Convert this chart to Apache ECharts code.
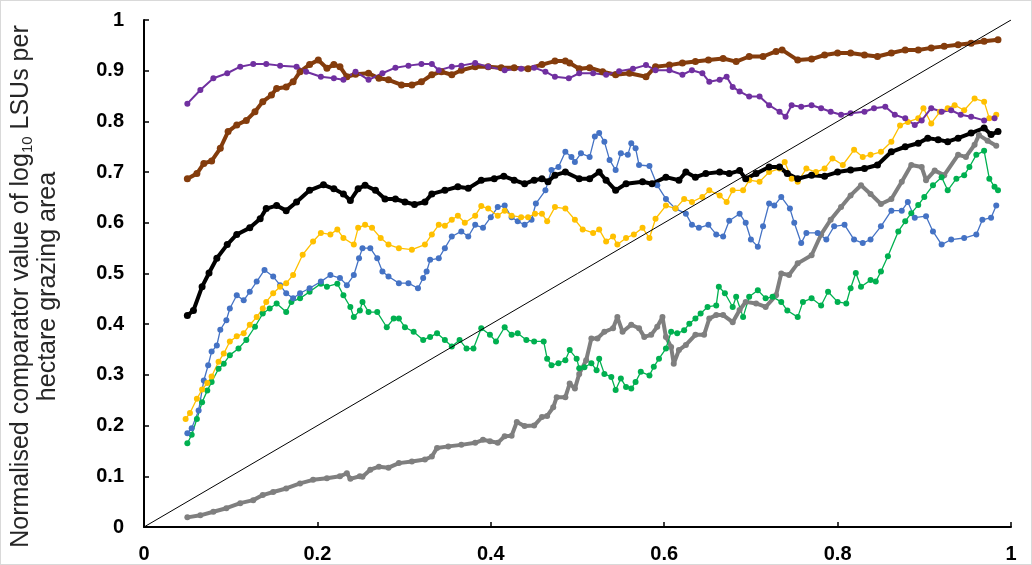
<!DOCTYPE html>
<html>
<head>
<meta charset="utf-8">
<script src="https://cdn.jsdelivr.net/npm/echarts@6/dist/echarts.min.js"></script>
<style>
  html, body { margin: 0; padding: 0; background: #fff; }
  #chart { width: 1030px; height: 563px; border: 1px solid #d9d9d9; }
</style>
</head>
<body>
<div id="chart"></div>
<script>
// 各曲线数据 [x, y]
const purple = [[0.050,0.835],[0.065,0.862],[0.080,0.885],[0.096,0.895],[0.111,0.908],[0.126,0.913],[0.141,0.913],[0.157,0.910],[0.176,0.908],[0.187,0.898],[0.204,0.888],[0.219,0.885],[0.230,0.882],[0.244,0.898],[0.259,0.882],[0.275,0.895],[0.290,0.906],[0.305,0.910],[0.320,0.913],[0.332,0.913],[0.340,0.901],[0.355,0.908],[0.366,0.910],[0.382,0.915],[0.397,0.908],[0.416,0.901],[0.435,0.904],[0.450,0.906],[0.463,0.898],[0.474,0.888],[0.490,0.885],[0.502,0.895],[0.518,0.895],[0.533,0.892],[0.548,0.899],[0.564,0.904],[0.579,0.911],[0.590,0.901],[0.606,0.901],[0.621,0.892],[0.632,0.901],[0.644,0.895],[0.652,0.878],[0.664,0.882],[0.672,0.888],[0.679,0.868],[0.687,0.859],[0.698,0.849],[0.710,0.849],[0.721,0.832],[0.733,0.819],[0.740,0.809],[0.747,0.832],[0.758,0.829],[0.770,0.832],[0.781,0.826],[0.792,0.819],[0.804,0.813],[0.815,0.816],[0.831,0.819],[0.842,0.826],[0.855,0.829],[0.866,0.813],[0.878,0.806],[0.889,0.793],[0.897,0.802],[0.908,0.826],[0.920,0.819],[0.931,0.822],[0.942,0.813],[0.954,0.809],[0.969,0.802],[0.981,0.806]];

const brown = [[0.050,0.687],[0.061,0.697],[0.069,0.717],[0.078,0.722],[0.088,0.747],[0.097,0.780],[0.107,0.793],[0.118,0.802],[0.128,0.819],[0.137,0.839],[0.147,0.852],[0.153,0.865],[0.164,0.868],[0.172,0.878],[0.180,0.898],[0.191,0.912],[0.201,0.921],[0.211,0.905],[0.219,0.912],[0.226,0.908],[0.234,0.888],[0.244,0.893],[0.259,0.895],[0.271,0.885],[0.282,0.882],[0.297,0.872],[0.309,0.872],[0.320,0.878],[0.332,0.892],[0.343,0.898],[0.355,0.892],[0.366,0.901],[0.382,0.908],[0.397,0.908],[0.412,0.906],[0.427,0.906],[0.443,0.904],[0.459,0.912],[0.474,0.919],[0.486,0.919],[0.491,0.915],[0.502,0.904],[0.514,0.906],[0.529,0.898],[0.544,0.892],[0.560,0.895],[0.579,0.888],[0.590,0.908],[0.606,0.911],[0.621,0.915],[0.636,0.918],[0.651,0.921],[0.668,0.924],[0.683,0.918],[0.698,0.928],[0.714,0.928],[0.729,0.938],[0.736,0.941],[0.754,0.921],[0.770,0.923],[0.785,0.931],[0.800,0.935],[0.815,0.935],[0.831,0.931],[0.846,0.928],[0.862,0.935],[0.878,0.941],[0.893,0.941],[0.908,0.945],[0.923,0.948],[0.939,0.951],[0.954,0.954],[0.969,0.958],[0.985,0.961]];

const black = [[0.050,0.417],[0.057,0.427],[0.067,0.474],[0.075,0.501],[0.084,0.530],[0.096,0.557],[0.107,0.577],[0.122,0.590],[0.134,0.608],[0.141,0.628],[0.153,0.634],[0.164,0.624],[0.176,0.641],[0.191,0.664],[0.207,0.675],[0.219,0.667],[0.230,0.657],[0.238,0.644],[0.247,0.667],[0.255,0.674],[0.267,0.664],[0.278,0.647],[0.290,0.647],[0.301,0.641],[0.312,0.636],[0.324,0.641],[0.332,0.657],[0.347,0.664],[0.362,0.671],[0.374,0.668],[0.389,0.684],[0.404,0.687],[0.415,0.692],[0.427,0.684],[0.439,0.677],[0.450,0.684],[0.459,0.687],[0.466,0.681],[0.474,0.694],[0.486,0.700],[0.502,0.687],[0.514,0.687],[0.525,0.700],[0.533,0.684],[0.544,0.664],[0.556,0.677],[0.575,0.681],[0.586,0.677],[0.602,0.690],[0.617,0.684],[0.625,0.700],[0.636,0.690],[0.648,0.697],[0.664,0.700],[0.675,0.697],[0.687,0.703],[0.694,0.687],[0.706,0.697],[0.721,0.710],[0.733,0.710],[0.742,0.697],[0.754,0.687],[0.770,0.694],[0.785,0.692],[0.800,0.700],[0.815,0.704],[0.831,0.707],[0.846,0.714],[0.862,0.740],[0.878,0.750],[0.893,0.757],[0.904,0.767],[0.916,0.764],[0.927,0.760],[0.939,0.767],[0.954,0.777],[0.969,0.787],[0.977,0.774],[0.985,0.780]];

const yellow = [[0.048,0.213],[0.053,0.225],[0.061,0.253],[0.067,0.271],[0.073,0.284],[0.078,0.297],[0.086,0.326],[0.092,0.342],[0.099,0.366],[0.107,0.376],[0.115,0.382],[0.122,0.399],[0.130,0.414],[0.137,0.431],[0.141,0.444],[0.149,0.461],[0.157,0.474],[0.164,0.481],[0.172,0.497],[0.183,0.537],[0.195,0.563],[0.204,0.580],[0.215,0.577],[0.223,0.587],[0.230,0.570],[0.242,0.557],[0.247,0.590],[0.255,0.596],[0.263,0.590],[0.273,0.570],[0.282,0.557],[0.294,0.550],[0.309,0.547],[0.324,0.557],[0.332,0.577],[0.340,0.596],[0.347,0.594],[0.355,0.606],[0.362,0.614],[0.370,0.600],[0.382,0.614],[0.389,0.633],[0.397,0.628],[0.408,0.614],[0.416,0.624],[0.424,0.614],[0.435,0.611],[0.443,0.611],[0.451,0.618],[0.459,0.618],[0.465,0.603],[0.474,0.631],[0.486,0.628],[0.497,0.606],[0.506,0.587],[0.518,0.580],[0.525,0.587],[0.533,0.563],[0.541,0.573],[0.546,0.557],[0.556,0.570],[0.565,0.577],[0.575,0.590],[0.583,0.570],[0.590,0.608],[0.602,0.634],[0.613,0.628],[0.623,0.647],[0.632,0.641],[0.644,0.651],[0.652,0.664],[0.664,0.654],[0.672,0.641],[0.679,0.664],[0.691,0.664],[0.698,0.684],[0.710,0.681],[0.721,0.700],[0.733,0.707],[0.739,0.720],[0.747,0.687],[0.754,0.681],[0.764,0.707],[0.775,0.700],[0.785,0.707],[0.794,0.727],[0.806,0.714],[0.819,0.744],[0.829,0.730],[0.838,0.734],[0.850,0.740],[0.862,0.760],[0.872,0.792],[0.881,0.799],[0.893,0.806],[0.899,0.826],[0.908,0.796],[0.918,0.819],[0.927,0.826],[0.935,0.832],[0.946,0.822],[0.958,0.845],[0.969,0.839],[0.975,0.806],[0.983,0.813]];

const blue = [[0.050,0.185],[0.055,0.195],[0.063,0.230],[0.069,0.289],[0.074,0.319],[0.078,0.346],[0.084,0.358],[0.088,0.389],[0.095,0.408],[0.099,0.431],[0.107,0.457],[0.115,0.447],[0.122,0.464],[0.130,0.484],[0.139,0.507],[0.149,0.494],[0.157,0.477],[0.164,0.461],[0.172,0.451],[0.180,0.461],[0.191,0.471],[0.204,0.484],[0.215,0.497],[0.226,0.491],[0.234,0.477],[0.242,0.497],[0.248,0.530],[0.252,0.550],[0.261,0.550],[0.269,0.530],[0.275,0.504],[0.282,0.494],[0.294,0.481],[0.305,0.481],[0.316,0.471],[0.322,0.491],[0.326,0.504],[0.330,0.527],[0.340,0.530],[0.347,0.550],[0.355,0.573],[0.366,0.583],[0.374,0.573],[0.382,0.596],[0.391,0.590],[0.400,0.611],[0.408,0.631],[0.416,0.634],[0.424,0.611],[0.431,0.603],[0.439,0.596],[0.447,0.606],[0.452,0.638],[0.463,0.664],[0.470,0.704],[0.478,0.710],[0.486,0.740],[0.493,0.730],[0.497,0.720],[0.504,0.737],[0.514,0.730],[0.520,0.770],[0.525,0.777],[0.531,0.760],[0.537,0.724],[0.544,0.704],[0.550,0.737],[0.558,0.734],[0.562,0.757],[0.567,0.747],[0.571,0.714],[0.583,0.712],[0.592,0.674],[0.602,0.647],[0.613,0.628],[0.625,0.618],[0.632,0.596],[0.640,0.590],[0.651,0.596],[0.660,0.577],[0.668,0.573],[0.675,0.604],[0.687,0.618],[0.694,0.600],[0.700,0.567],[0.708,0.553],[0.714,0.593],[0.721,0.638],[0.727,0.634],[0.735,0.651],[0.745,0.628],[0.750,0.600],[0.758,0.560],[0.764,0.580],[0.777,0.580],[0.787,0.567],[0.796,0.593],[0.808,0.596],[0.819,0.567],[0.829,0.560],[0.838,0.567],[0.850,0.593],[0.862,0.624],[0.874,0.624],[0.881,0.641],[0.889,0.610],[0.902,0.613],[0.910,0.583],[0.920,0.557],[0.931,0.567],[0.946,0.570],[0.960,0.577],[0.967,0.606],[0.977,0.610],[0.983,0.634]];

const green = [[0.050,0.165],[0.055,0.182],[0.061,0.213],[0.067,0.246],[0.073,0.269],[0.078,0.286],[0.086,0.312],[0.092,0.322],[0.099,0.339],[0.109,0.352],[0.118,0.369],[0.128,0.395],[0.137,0.421],[0.145,0.431],[0.153,0.441],[0.164,0.424],[0.170,0.444],[0.180,0.451],[0.191,0.464],[0.204,0.480],[0.211,0.474],[0.223,0.480],[0.230,0.457],[0.238,0.434],[0.242,0.414],[0.249,0.427],[0.252,0.444],[0.259,0.424],[0.269,0.424],[0.280,0.394],[0.288,0.411],[0.294,0.411],[0.301,0.394],[0.311,0.385],[0.322,0.369],[0.330,0.375],[0.338,0.382],[0.347,0.369],[0.355,0.356],[0.364,0.369],[0.372,0.352],[0.380,0.352],[0.389,0.392],[0.399,0.379],[0.406,0.366],[0.416,0.394],[0.424,0.379],[0.431,0.382],[0.441,0.369],[0.450,0.366],[0.461,0.366],[0.465,0.332],[0.470,0.319],[0.478,0.323],[0.486,0.329],[0.491,0.349],[0.499,0.332],[0.502,0.313],[0.508,0.315],[0.516,0.323],[0.522,0.309],[0.525,0.332],[0.531,0.302],[0.539,0.296],[0.544,0.270],[0.550,0.293],[0.556,0.276],[0.562,0.273],[0.567,0.286],[0.573,0.306],[0.583,0.299],[0.588,0.316],[0.594,0.332],[0.602,0.352],[0.608,0.385],[0.615,0.382],[0.623,0.388],[0.629,0.401],[0.636,0.411],[0.642,0.421],[0.650,0.434],[0.660,0.437],[0.663,0.474],[0.670,0.461],[0.679,0.434],[0.683,0.454],[0.691,0.414],[0.698,0.454],[0.708,0.467],[0.717,0.451],[0.725,0.454],[0.735,0.444],[0.742,0.427],[0.754,0.414],[0.760,0.444],[0.770,0.451],[0.781,0.437],[0.789,0.464],[0.800,0.444],[0.810,0.441],[0.815,0.471],[0.821,0.501],[0.827,0.474],[0.838,0.487],[0.844,0.484],[0.850,0.504],[0.858,0.534],[0.870,0.583],[0.878,0.603],[0.885,0.619],[0.893,0.635],[0.900,0.651],[0.910,0.674],[0.920,0.690],[0.927,0.664],[0.937,0.687],[0.946,0.694],[0.952,0.710],[0.960,0.734],[0.969,0.742],[0.975,0.687],[0.981,0.671],[0.985,0.664]];

const gray = [[0.050,0.019],[0.065,0.023],[0.080,0.030],[0.095,0.037],[0.111,0.047],[0.126,0.053],[0.137,0.063],[0.149,0.069],[0.164,0.076],[0.180,0.086],[0.195,0.093],[0.211,0.096],[0.226,0.100],[0.234,0.106],[0.238,0.095],[0.249,0.100],[0.252,0.099],[0.261,0.113],[0.271,0.119],[0.282,0.117],[0.294,0.126],[0.309,0.129],[0.324,0.133],[0.332,0.139],[0.338,0.156],[0.351,0.159],[0.366,0.162],[0.382,0.166],[0.391,0.172],[0.399,0.169],[0.408,0.166],[0.416,0.179],[0.424,0.180],[0.430,0.207],[0.439,0.199],[0.450,0.200],[0.459,0.217],[0.465,0.219],[0.472,0.236],[0.476,0.256],[0.486,0.256],[0.491,0.283],[0.497,0.273],[0.502,0.302],[0.510,0.329],[0.516,0.372],[0.523,0.372],[0.531,0.385],[0.541,0.392],[0.546,0.414],[0.552,0.385],[0.562,0.399],[0.571,0.392],[0.577,0.375],[0.585,0.379],[0.592,0.395],[0.598,0.414],[0.602,0.375],[0.608,0.355],[0.611,0.322],[0.617,0.349],[0.625,0.359],[0.636,0.379],[0.646,0.379],[0.652,0.411],[0.660,0.418],[0.668,0.418],[0.679,0.404],[0.687,0.428],[0.694,0.444],[0.706,0.441],[0.717,0.434],[0.729,0.457],[0.735,0.500],[0.744,0.497],[0.754,0.520],[0.770,0.536],[0.781,0.577],[0.792,0.606],[0.804,0.631],[0.815,0.654],[0.827,0.674],[0.838,0.657],[0.850,0.637],[0.862,0.647],[0.874,0.681],[0.885,0.714],[0.897,0.710],[0.902,0.684],[0.912,0.703],[0.923,0.694],[0.939,0.734],[0.948,0.730],[0.958,0.754],[0.963,0.773],[0.973,0.762],[0.983,0.752]];

// 1:1 参考线
const diagonal = [[0, 0], [1, 1]];

let chart = echarts.init(document.getElementById('chart'));

// 点线样式
function dotted(data, color, lineWidth, size) {
  return {
    type: 'line',
    data: data,
    symbol: 'circle',
    symbolSize: size,
    showSymbol: true,
    lineStyle: {color: color, width: lineWidth},
    itemStyle: {color: color, borderWidth: 0}
  };
}

let option = {
  animation: false,
  grid: {left: 143, right: 20, top: 19, bottom: 37, outerBoundsMode: 'none'},
  xAxis: {
    type: 'value',
    min: 0,
    max: 1,
    interval: 0.2,
    axisLine: {lineStyle: {color: '#000', width: 2}},
    axisTick: {inside: true, length: 5, lineStyle: {color: '#000', width: 1.5}},
    axisLabel: {color: '#000', fontFamily: 'Liberation Sans', fontWeight: 'bold', fontSize: 20, margin: 17},
    splitLine: {show: false}
  },
  yAxis: {
    type: 'value',
    min: 0,
    max: 1,
    interval: 0.1,
    axisLine: {show: true, lineStyle: {color: '#000', width: 2}},
    axisTick: {show: true, inside: true, length: 5, lineStyle: {color: '#000', width: 1.5}},
    axisLabel: {color: '#000', fontFamily: 'Liberation Sans', fontWeight: 'bold', fontSize: 20, margin: 20},
    splitLine: {show: false},
    name: 'Normalised comparator value of log{sub|10} LSUs per\nhectare grazing area',
    nameLocation: 'middle',
    nameRotate: 90,
    nameGap: 82,
    nameTextStyle: {
      color: '#262626',
      fontFamily: 'Liberation Sans',
      fontSize: 25,
      lineHeight: 27,
      align: 'center',
      padding: [0, 26, 0, 0],
      rich: {
        sub: {fontSize: 15, color: '#262626', fontFamily: 'Liberation Sans', verticalAlign: 'bottom', lineHeight: 27, padding: [9, 0, 0, 0]}
      }
    }
  },
  series: [
    dotted(gray, '#7f7f7f', 4, 6),
    dotted(green, '#00b050', 1.3, 6),
    dotted(blue, '#4472c4', 1.3, 6),
    dotted(yellow, '#ffc000', 1.3, 6),
    dotted(black, '#000000', 4, 7),
    dotted(brown, '#843c0c', 4, 7),
    dotted(purple, '#7030a0', 2, 6),
    {
      type: 'line',
      data: diagonal,
      symbol: 'none',
      lineStyle: {color: '#000', width: 1},
      z: 5
    }
  ]
};
chart.setOption(option);
</script>
</body>
</html>
